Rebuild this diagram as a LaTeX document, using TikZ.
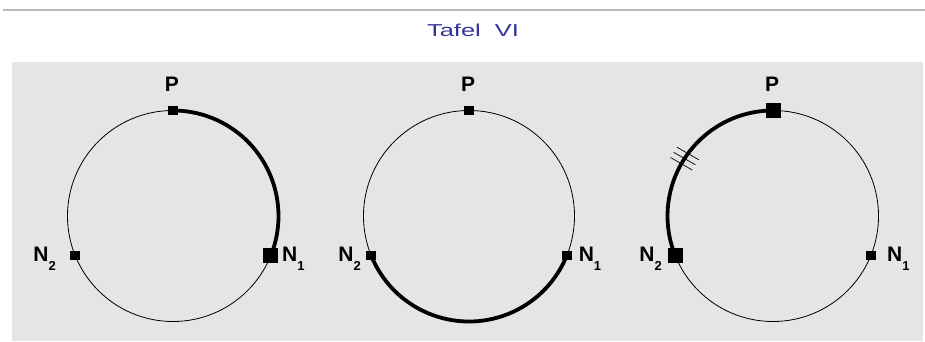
\documentclass[tikz,border=0pt]{standalone}
\usepackage{fontspec}
\setmainfont{Liberation Sans}
\usepackage{graphicx}
\definecolor{titleblue}{HTML}{33339A}
\definecolor{panelgray}{HTML}{E5E5E5}
\definecolor{rulegray}{HTML}{BBBBBB}
\newcommand\labsub[1]{\raisebox{-8.3pt}{\fontsize{13}{13}\selectfont #1}}
\begin{document}
\begin{tikzpicture}[x=1pt,y=1pt,
  thinring/.style={line width=0.8pt},
  heavyarc/.style={line width=3.8pt},
  smallsq/.style={fill=black, minimum size=9.5pt, inner sep=0pt, outer sep=0pt},
  bigsq/.style={fill=black, minimum size=15pt, inner sep=0pt, outer sep=0pt},
  lbl/.style={font=\fontsize{21}{22}\selectfont\bfseries, inner sep=0pt},
  hatchline/.style={line width=0.7pt}]
\useasboundingbox (0,0) rectangle (925,341);
% top rule and panel
\draw[rulegray, line width=2pt] (3,331) -- (925,331);
\fill[panelgray] (12,0) rectangle (923,279);
% title
\node[anchor=base, inner sep=0pt, text=titleblue] (title) at (473,305)
  {\resizebox{92pt}{12.5pt}{Tafel\ \ VI}};
% ---------- circle 1 ----------
\coordinate (o1) at (173,125);
\draw[thinring] (o1) circle[radius=105.5];
\node[smallsq] (c1p) at ([shift={(90:105.5)}]o1) {};
\node[bigsq] (c1n1) at ([shift={(-22:105.5)}]o1) {};
\node[smallsq] (c1n2) at ([shift={(202:105.5)}]o1) {};
\draw[heavyarc] (c1p.center) arc[start angle=90, end angle=-22, radius=105.5];
\node[lbl, anchor=base] (c1pl) at (172,250) {P};
\node[lbl, anchor=base west] (c1n1l) at (282,79.3) {N\labsub{1}};
\node[lbl, anchor=base east] (c1n2l) at (56,79.3) {N\labsub{2}};
% ---------- circle 2 ----------
\coordinate (o2) at (469,125);
\draw[thinring] (o2) circle[radius=105.5];
\node[smallsq] (c2p) at ([shift={(90:105.5)}]o2) {};
\node[smallsq] (c2n1) at ([shift={(-22:105.5)}]o2) {};
\node[smallsq] (c2n2) at ([shift={(202:105.5)}]o2) {};
\draw[heavyarc] (c2n2.center) arc[start angle=202, end angle=338, radius=105.5];
\node[lbl, anchor=base] (c2pl) at (468,250) {P};
\node[lbl, anchor=base west] (c2n1l) at (578.6,79.3) {N\labsub{1}};
\node[lbl, anchor=base east] (c2n2l) at (361,79.3) {N\labsub{2}};
% ---------- circle 3 ----------
\coordinate (o3) at (773,125);
\draw[thinring] (o3) circle[radius=105.5];
\node[bigsq] (c3p) at ([shift={(90:105.5)}]o3) {};
\node[smallsq] (c3n1) at ([shift={(-22:105.5)}]o3) {};
\node[bigsq] (c3n2) at ([shift={(202:105.5)}]o3) {};
\draw[heavyarc] (c3p.center) arc[start angle=90, end angle=202, radius=105.5];
\foreach \a/\nm in {143.7/ha,147/hb,150.3/hc}{
  \coordinate (\nm) at ([shift={(\a:105.5)}]o3);
  \draw[hatchline] ([shift={(150:12.5)}]\nm) -- ([shift={(-30:12.5)}]\nm);
}
\node[lbl, anchor=base] (c3pl) at (772,250) {P};
\node[lbl, anchor=base west] (c3n1l) at (887,79.3) {N\labsub{1}};
\node[lbl, anchor=base east] (c3n2l) at (662,79.3) {N\labsub{2}};
\end{tikzpicture}
\end{document}
